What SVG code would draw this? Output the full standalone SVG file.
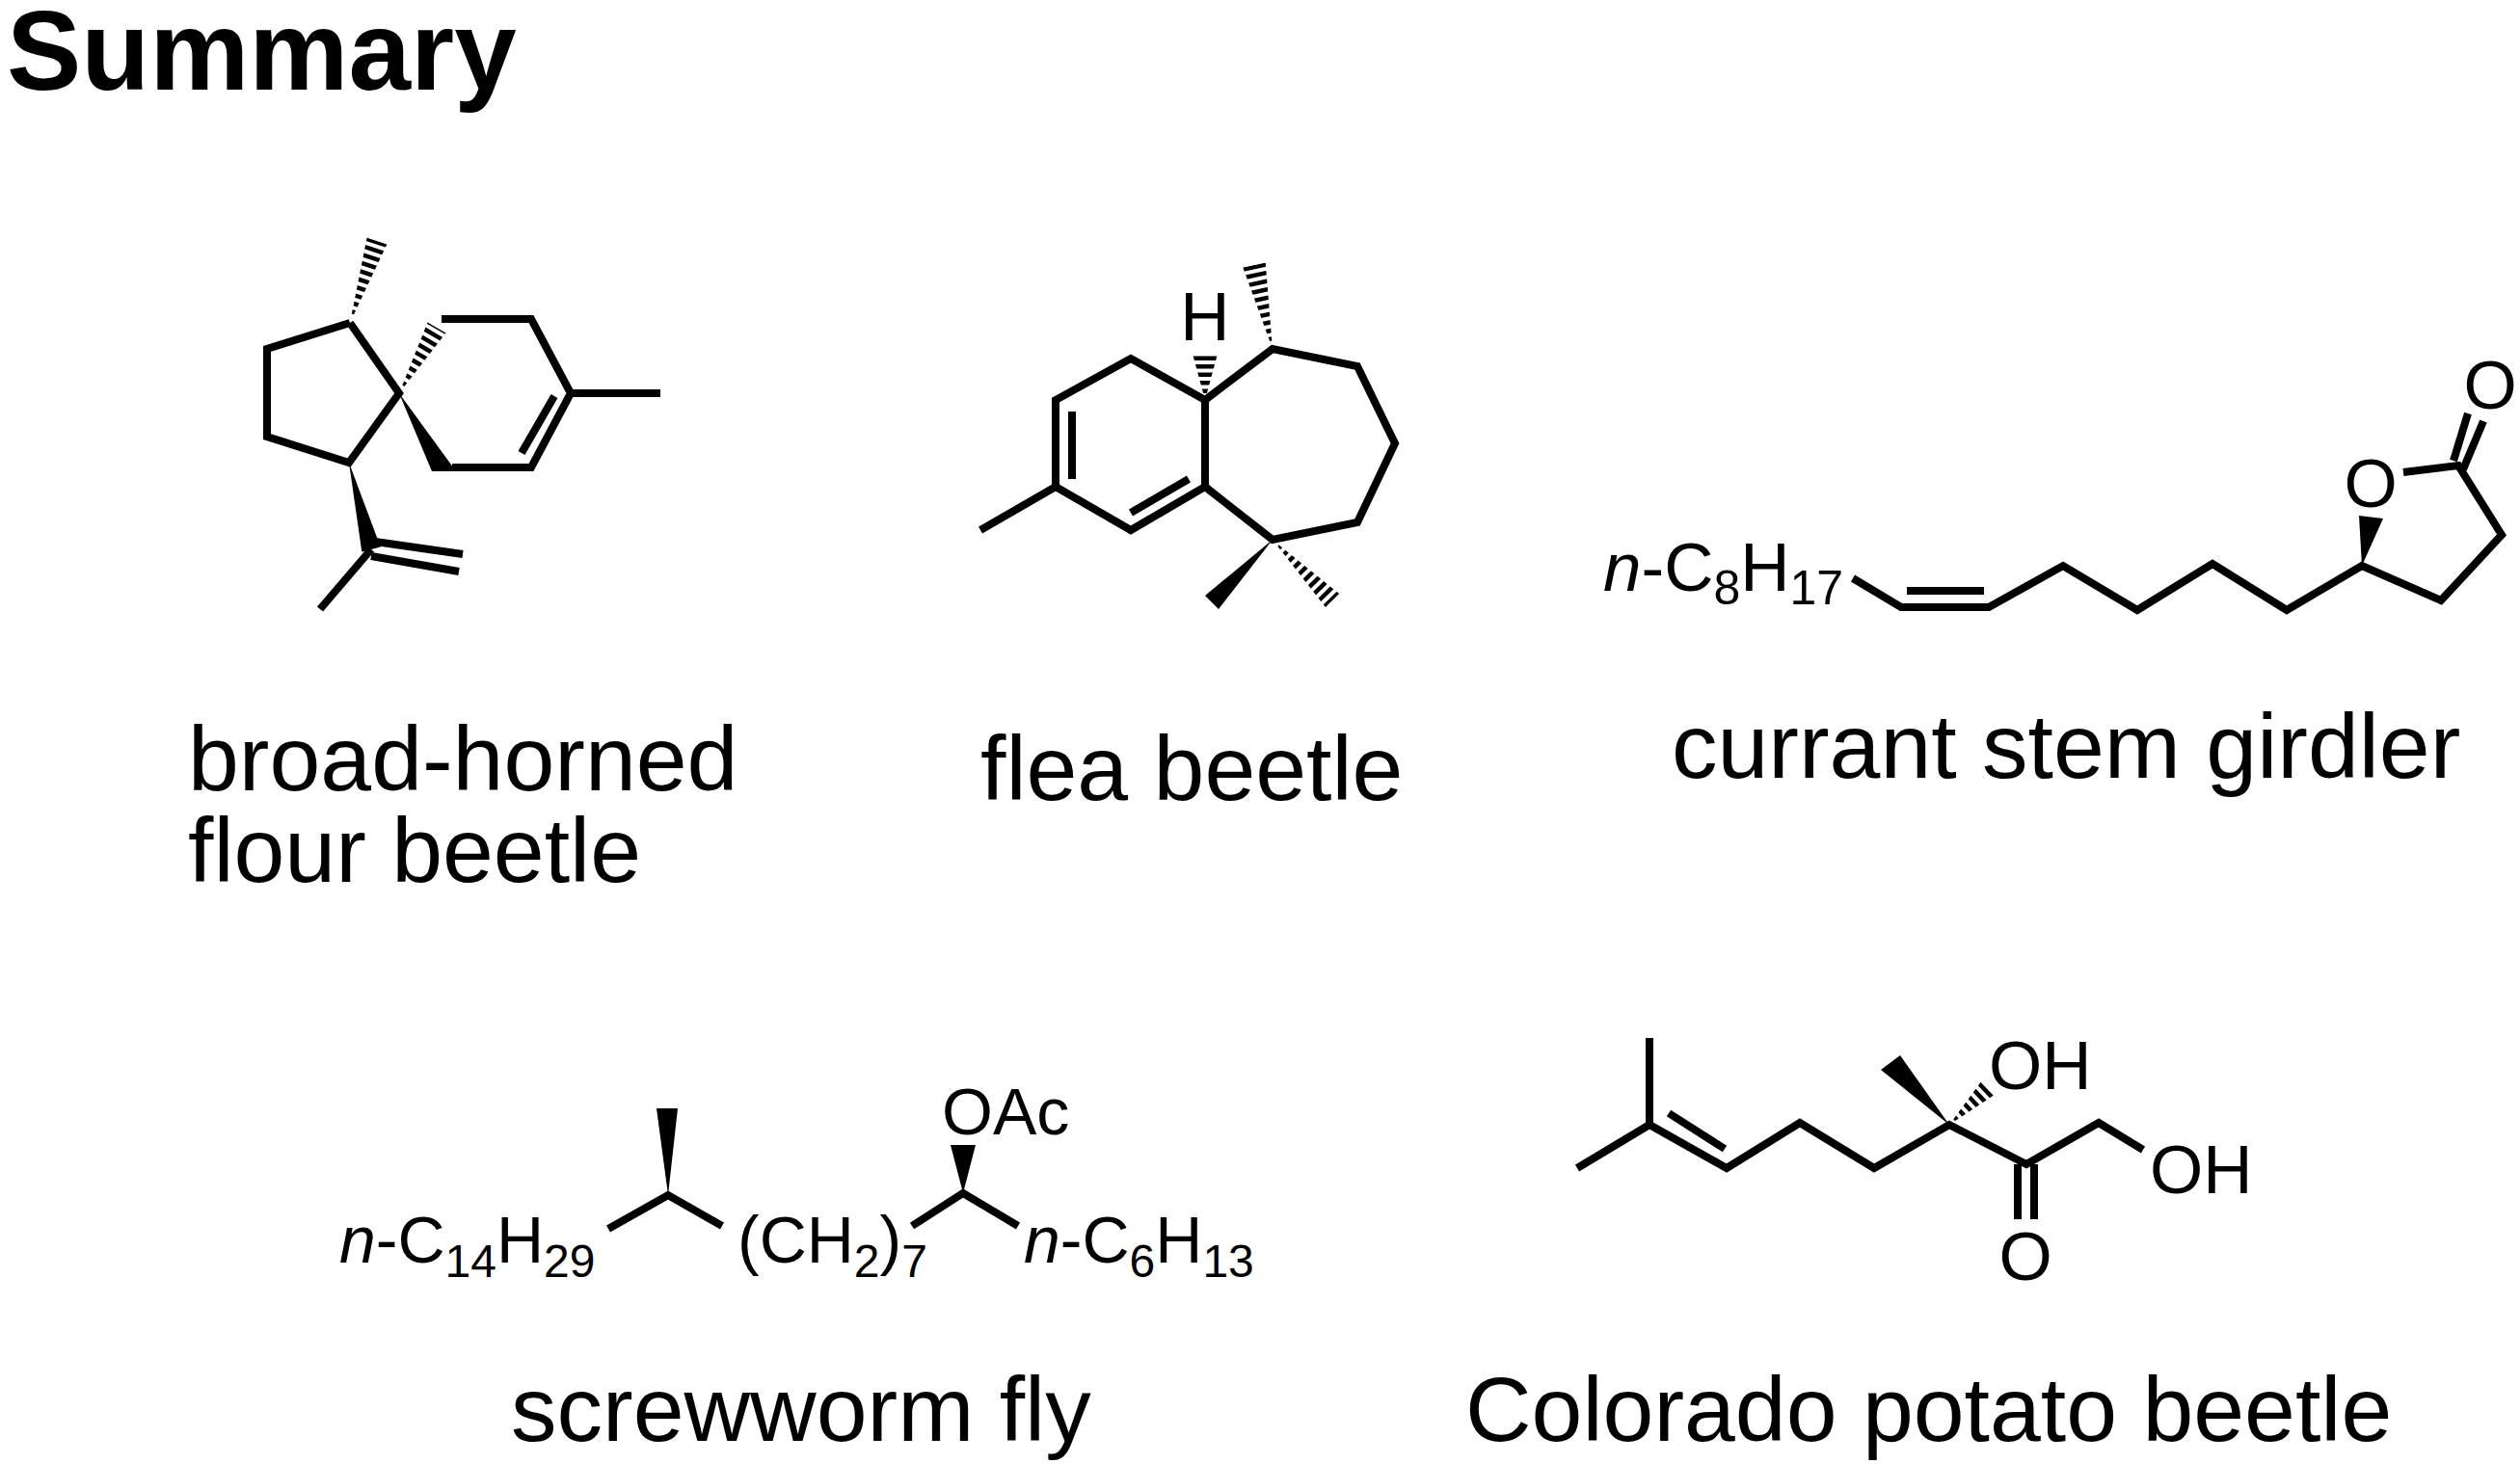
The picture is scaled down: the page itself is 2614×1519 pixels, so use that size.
<svg xmlns="http://www.w3.org/2000/svg" width="2614" height="1519" viewBox="0 0 2614 1519">
<style>
.b{fill:none;stroke:#000;stroke-width:8;stroke-linejoin:miter;stroke-linecap:butt}
.h{fill:none;stroke:#000;stroke-dasharray:4.5 4}
.w{fill:#000;stroke:none}
text{font-family:"Liberation Sans",Arial,sans-serif;fill:#000}
.lab{font-size:95px}
.at{font-size:71px}
.at2{font-size:68px}
</style>
<defs>
<clipPath id="c1"><polygon points="363,335 401.4,253.4 380.6,246.6"/></clipPath>
<clipPath id="c2"><polygon points="414,408 462.5,345.5 443.5,334.5"/></clipPath>
<clipPath id="c3"><polygon points="1250,415 1263,367 1237,367"/></clipPath>
<clipPath id="c4"><polygon points="1320,362 1312.7,272.4 1289.3,277.6"/></clipPath>
<clipPath id="c5"><polygon points="1320,560 1389.1,616 1374.9,630"/></clipPath>
<clipPath id="c6"><polygon points="2022,1167 2069.9,1135.3 2056.1,1120.7"/></clipPath>
</defs>
<rect width="2614" height="1519" fill="#fff"/>
<text x="7" y="93" style="font-size:116px;font-weight:bold">Summary</text>

<g id="mol1">
<polyline class="b" points="363,335 277,362 277,453 362,480 414,408 363,335"/>
<polyline class="b" points="458,331 551,331 592,408 551,485 469,485"/>
<line class="b" x1="592" y1="408" x2="685" y2="408"/>
<line class="b" x1="575" y1="411" x2="541" y2="470"/>
<line class="h" x1="366" y1="326" x2="391" y2="250" stroke-width="26" clip-path="url(#c1)"/>
<line class="h" x1="418" y1="400" x2="458" y2="331" stroke-width="26" clip-path="url(#c2)"/>
<polygon class="w" points="414,408 448,489 473,489"/>
<polygon class="w" points="362,480 394.7,567.5 375.3,572.5"/>
<line class="b" x1="389" y1="562" x2="480" y2="575"/>
<line class="b" x1="385" y1="577" x2="476" y2="593"/>
<line class="b" x1="385" y1="570" x2="332" y2="632"/>
<text class="lab" x="195" y="820">broad-horned</text>
<text class="lab" x="195" y="915">flour beetle</text>
</g>

<g id="mol2">
<polyline class="b" points="1250,415 1173,372 1095,415 1095,505 1173,550 1250,505 1250,415 1320,362 1408,380 1447,460 1408,542 1320,560 1250,505"/>
<line class="b" x1="1095" y1="505" x2="1017" y2="550"/>
<line class="b" x1="1112" y1="427" x2="1112" y2="497"/>
<line class="b" x1="1173" y1="532" x2="1233" y2="497"/>
<text class="at" x="1250" y="353" text-anchor="middle">H</text>
<line class="h" x1="1250" y1="408" x2="1250" y2="367" stroke-width="28" clip-path="url(#c3)"/>
<line class="h" x1="1318" y1="354" x2="1301" y2="275" stroke-width="28" clip-path="url(#c4)"/>
<line class="h" x1="1326" y1="566" x2="1385" y2="626" stroke-width="24" clip-path="url(#c5)"/>
<polygon class="w" points="1320,560 1264,632 1250,618"/>
<text class="lab" x="1017" y="830">flea beetle</text>
</g>

<g id="mol3">
<text class="at" x="1663" y="613"><tspan font-style="italic">n</tspan>-C<tspan font-size="50" dy="14">8</tspan><tspan dy="-14">H</tspan><tspan font-size="50" dy="14">17</tspan></text>
<polyline class="b" points="1922,600 1972,630 2063,630 2140,587 2217,633 2295,585 2372,633 2450,587 2532,623 2595,555 2550,483 2493,490"/>
<line class="b" x1="1978" y1="613" x2="2058" y2="613"/>
<polygon class="w" points="2450,587 2447,535 2472,538"/>
<line class="b" x1="2545" y1="478" x2="2560" y2="429"/>
<line class="b" x1="2555" y1="487" x2="2576" y2="437"/>
<text class="at" x="2459" y="526" text-anchor="middle">O</text>
<text class="at" x="2583" y="424" text-anchor="middle">O</text>
<text class="lab" x="1734" y="807">currant stem girdler</text>
</g>

<g id="mol4">
<text class="at2" x="352" y="1310"><tspan font-style="italic">n</tspan>-C<tspan font-size="48" dy="15">14</tspan><tspan dy="-15">H</tspan><tspan font-size="48" dy="15">29</tspan></text>
<polyline class="b" points="631,1275 693,1240 749,1272"/>
<polygon class="w" points="693,1240 681,1150 703,1150"/>
<text class="at2" x="765" y="1310">(CH<tspan font-size="48" dy="15">2</tspan><tspan dy="-15">)</tspan><tspan font-size="48" dy="15">7</tspan></text>
<polyline class="b" points="946,1272 999,1238 1056,1272"/>
<polygon class="w" points="999,1238 986,1188 1012,1188"/>
<text class="at2" x="977" y="1177">OAc</text>
<text class="at2" x="1062" y="1310"><tspan font-style="italic">n</tspan>-C<tspan font-size="48" dy="15">6</tspan><tspan dy="-15">H</tspan><tspan font-size="48" dy="15">13</tspan></text>
<text class="lab" x="530" y="1495">screwworm fly</text>
</g>

<g id="mol5">
<polyline class="b" points="1636,1212 1711,1167 1791,1212 1867,1165 1944,1212 2022,1167 2102,1208 2177,1165 2223,1193"/>
<line class="b" x1="1711" y1="1167" x2="1711" y2="1077"/>
<line class="b" x1="1731" y1="1155" x2="1789" y2="1192"/>
<polygon class="w" points="2022,1167 1951,1110 1971,1095"/>
<line class="h" x1="2027" y1="1162" x2="2063" y2="1128" stroke-width="24" clip-path="url(#c6)"/>
<line class="b" x1="2093" y1="1208" x2="2093" y2="1265"/>
<line class="b" x1="2110" y1="1208" x2="2110" y2="1265"/>
<text class="at" x="2063" y="1130">OH</text>
<text class="at" x="2230" y="1238">OH</text>
<text class="at" x="2101" y="1328" text-anchor="middle">O</text>
<text class="lab" x="1520" y="1495">Colorado potato beetle</text>
</g>
<g id="connectors"/>
</svg>
